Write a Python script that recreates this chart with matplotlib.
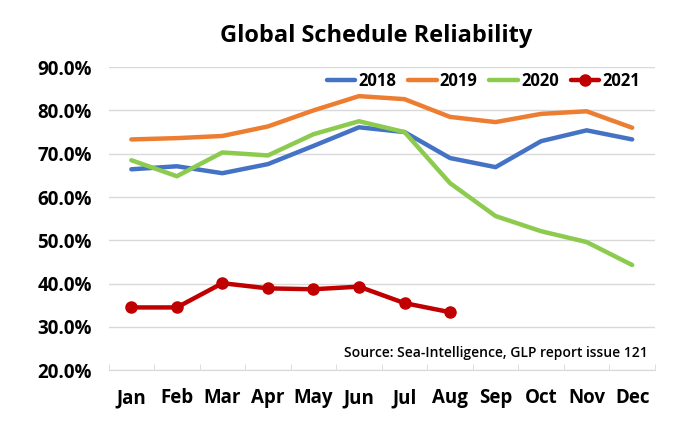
import numpy as np
import matplotlib.pyplot as plt
from matplotlib.ticker import FixedLocator

months = ["Jan", "Feb", "Mar", "Apr", "May", "Jun", "Jul", "Aug", "Sep", "Oct", "Nov", "Dec"]
rel_2018 = [66.4, 67.1, 65.5, 67.6, 71.8, 76.1, 75.0, 69.0, 66.9, 72.9, 75.4, 73.3]
rel_2019 = [73.3, 73.6, 74.1, 76.3, 80.0, 83.3, 82.6, 78.5, 77.3, 79.2, 79.8, 76.0]
rel_2020 = [68.5, 64.8, 70.3, 69.6, 74.5, 77.5, 75.0, 63.2, 55.6, 52.1, 49.6, 44.3]
rel_2021 = [34.5, 34.5, 40.1, 38.9, 38.7, 39.3, 35.5, 33.4]

plt.rcParams['font.family'] = ['Open Sans', 'DejaVu Sans']

fig = plt.figure(figsize=(6.96, 4.33), dpi=100)
ax = fig.add_axes([0.156, 0.145, 0.785, 0.70])

x = np.arange(len(months))
ax.plot(x, rel_2018, color="#4472C4", lw=3.2, label="2018", solid_capstyle="round")
ax.plot(x, rel_2019, color="#ED7D31", lw=3.2, label="2019", solid_capstyle="round")
ax.plot(x, rel_2020, color="#8CCB4E", lw=3.2, label="2020", solid_capstyle="round")
ax.plot(x[:len(rel_2021)], rel_2021, color="#C00000", lw=3.2, marker="o", ms=8,
        label="2021", solid_capstyle="round")

ax.set_xlim(-0.5, 11.5)
ax.set_ylim(20, 90)
ax.set_yticks(np.arange(20, 91, 10))
ax.set_yticklabels([f"{v:.1f}%" for v in np.arange(20, 91, 10)], fontsize=13.5, fontweight="bold")
ax.set_xticks(x)
ax.set_xticklabels(months, fontsize=13.5, fontweight="bold")
ax.tick_params(axis="x", length=0, pad=13)
ax.tick_params(axis="y", length=0, pad=12)
ax.xaxis.set_minor_locator(FixedLocator(np.arange(-0.5, 12, 1)))
ax.tick_params(axis="x", which="minor", direction="in", length=4, color="#d9d9d9")
ax.grid(axis="y", color="#d9d9d9", lw=1)
ax.set_axisbelow(True)
for s in ["top", "right", "left"]:
    ax.spines[s].set_visible(False)
ax.spines["bottom"].set_color("#d9d9d9")

ax.legend(loc="upper right", bbox_to_anchor=(1.0, 1.035), ncol=4, frameon=False,
          handlelength=1.7, columnspacing=0.7, handletextpad=0.2,
          prop={"size": 12, "weight": "bold"})

ax.text(11.35, 22.3, "Source: Sea-Intelligence, GLP report issue 121", ha="right",
        va="bottom", fontsize=10, fontweight="semibold")

fig.text(0.54, 0.918, "Global Schedule Reliability", ha="center", va="center",
         fontsize=17, fontweight="bold")

fig.savefig("out.png", dpi=100)
